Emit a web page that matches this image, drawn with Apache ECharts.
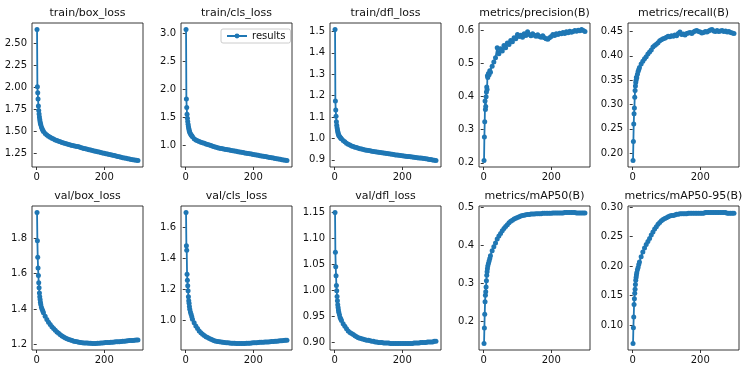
<!DOCTYPE html>
<html>
<head>
<meta charset="utf-8">
<script src="https://cdn.jsdelivr.net/npm/echarts@6/dist/echarts.min.js"></script>
<style>
  html, body { margin: 0; padding: 0; background: #fff; }
  #chart { width: 750px; height: 375px; }
</style>
</head>
<body>
<div id="chart"></div>
<script>
// epochs sampled from the run (dense at the start, every 5 afterwards)
const epochs = [1,2,3,4,5,6,7,8,9,10,11,12,14,16,18,20,
  25,30,35,40,45,50,55,60, 65,70,75,80,85,90,95,100,
  105,110,115,120,125,130,135,140, 145,150,155,160,165,170,175,180,
  185,190,195,200,205,210,215,220, 225,230,235,240,245,250,255,260,
  265,270,275,280,285,290,295,300]

const trainBox = [2.66,2.01,1.94,1.87,1.79,1.74,1.70,1.665,1.635,1.61,1.59,1.575,1.55,1.53,1.515,1.50,
  1.478,1.46,1.446,1.434,1.423,1.413,1.404,1.396, 1.389,1.382,1.375,1.369,1.363,1.357,1.351,1.346,
  1.341,1.336,1.331,1.328,1.325,1.318,1.312,1.307, 1.302,1.297,1.292,1.288,1.283,1.278,1.274,1.269,
  1.265,1.260,1.256,1.252,1.247,1.243,1.238,1.234, 1.229,1.225,1.220,1.216,1.211,1.207,1.202,1.198,
  1.194,1.190,1.186,1.182,1.178,1.175,1.172,1.170]

const trainCls = [3.07,1.83,1.68,1.56,1.49,1.43,1.38,1.34,1.31,1.28,1.255,1.235,1.21,1.19,1.175,1.16,
  1.12,1.10,1.085,1.072,1.06,1.05,1.04,1.03, 1.02,1.01,1.0,0.99,0.98,0.971,0.962,0.953,
  0.947,0.942,0.936,0.931,0.925,0.920,0.914,0.909, 0.903,0.898,0.892,0.887,0.881,0.876,0.870,0.865,
  0.859,0.854,0.848,0.843,0.837,0.832,0.826,0.821, 0.815,0.810,0.804,0.799,0.793,0.788,0.782,0.777,
  0.771,0.766,0.760,0.755,0.749,0.744,0.739,0.735]

const trainDfl = [1.509,1.175,1.133,1.104,1.078,1.062,1.05,1.04,1.032,1.025,1.019,1.014,1.010,1.005,1.001,0.998,
  0.99,0.984,0.978,0.973,0.969,0.965,0.962,0.959, 0.957,0.954,0.952,0.95,0.948,0.946,0.945,0.943,
  0.942,0.940,0.939,0.938,0.937,0.935,0.934,0.933, 0.932,0.931,0.929,0.928,0.927,0.926,0.925,0.923,
  0.922,0.921,0.920,0.919,0.918,0.917,0.916,0.915, 0.914,0.913,0.912,0.911,0.910,0.909,0.908,0.907,
  0.906,0.905,0.904,0.902,0.901,0.899,0.898,0.897]

const precision = [0.207,0.278,0.324,0.387,0.361,0.370,0.400,0.414,0.429,0.422,0.463,0.458,0.470,0.466,0.478,0.474,
  0.492,0.505,0.518,0.548,0.530,0.545,0.538,0.555, 0.548,0.562,0.558,0.570,0.566,0.578,0.575,0.588,
  0.582,0.586,0.580,0.590,0.585,0.596,0.588,0.584, 0.590,0.586,0.583,0.587,0.582,0.580,0.584,0.578,
  0.575,0.574,0.578,0.582,0.588,0.585,0.590,0.588, 0.592,0.590,0.594,0.591,0.596,0.593,0.598,0.595,
  0.597,0.600,0.598,0.601,0.599,0.603,0.600,0.597]

const recall = [0.185,0.224,0.260,0.281,0.293,0.315,0.329,0.338,0.345,0.350,0.356,0.355,0.362,0.368,0.372,0.376,
  0.383,0.389,0.394,0.398,0.404,0.408,0.412,0.418, 0.421,0.424,0.427,0.431,0.433,0.435,0.436,0.438,
  0.440,0.439,0.441,0.440,0.443,0.441,0.446,0.449, 0.444,0.445,0.443,0.446,0.447,0.448,0.446,0.449,
  0.451,0.452,0.450,0.449,0.447,0.448,0.450,0.449, 0.451,0.453,0.454,0.451,0.450,0.452,0.450,0.451,
  0.452,0.450,0.451,0.449,0.450,0.448,0.447,0.446]

const valBox = [1.944,1.785,1.691,1.631,1.588,1.547,1.519,1.49,1.468,1.453,1.438,1.425,1.41,1.398,1.388,1.378,
  1.358,1.34,1.325,1.312,1.30,1.29,1.28,1.27, 1.262,1.254,1.247,1.241,1.236,1.231,1.227,1.224,
  1.221,1.218,1.216,1.214,1.212,1.211,1.209,1.208, 1.207,1.207,1.206,1.206,1.205,1.205,1.205,1.206,
  1.206,1.207,1.208,1.209,1.210,1.210,1.211,1.212, 1.212,1.213,1.214,1.215,1.215,1.216,1.217,1.218,
  1.219,1.220,1.221,1.222,1.222,1.223,1.224,1.224]

const valCls = [1.697,1.483,1.453,1.299,1.26,1.225,1.193,1.154,1.128,1.112,1.09,1.073,1.055,1.04,1.025,1.008,
  0.985,0.965,0.948,0.933,0.921,0.911,0.903,0.896, 0.89,0.884,0.879,0.874,0.87,0.867,0.865,0.863,
  0.861,0.859,0.858,0.857,0.856,0.855,0.854,0.853, 0.853,0.852,0.852,0.852,0.852,0.852,0.852,0.853,
  0.853,0.854,0.855,0.856,0.857,0.857,0.858,0.859, 0.859,0.860,0.861,0.862,0.862,0.863,0.864,0.865,
  0.866,0.867,0.868,0.869,0.870,0.871,0.872,0.872]

const valDfl = [1.149,1.073,1.045,1.028,1.009,0.999,0.988,0.98,0.972,0.967,0.962,0.958,0.953,0.948,0.945,0.942,
  0.936,0.931,0.926,0.922,0.919,0.917,0.915,0.913, 0.911,0.909,0.908,0.907,0.906,0.905,0.904,0.904,
  0.903,0.902,0.902,0.901,0.901,0.900,0.900,0.900, 0.899,0.899,0.899,0.899,0.898,0.898,0.898,0.898,
  0.898,0.898,0.898,0.898,0.898,0.898,0.898,0.898, 0.898,0.898,0.899,0.899,0.899,0.899,0.900,0.900,
  0.900,0.900,0.901,0.901,0.901,0.901,0.902,0.902]

const map50 = [0.141,0.182,0.218,0.251,0.268,0.277,0.29,0.306,0.321,0.33,0.338,0.345,0.352,0.358,0.365,0.372,
  0.385,0.396,0.406,0.416,0.424,0.431,0.438,0.444, 0.449,0.454,0.459,0.463,0.466,0.469,0.471,0.473,
  0.475,0.477,0.478,0.479,0.480,0.481,0.481,0.482, 0.482,0.482,0.483,0.483,0.483,0.483,0.484,0.484,
  0.484,0.484,0.484,0.484,0.485,0.485,0.485,0.485, 0.485,0.485,0.485,0.486,0.486,0.486,0.486,0.486,
  0.486,0.486,0.485,0.485,0.485,0.485,0.485,0.485]

const map5095 = [0.069,0.0955,0.114,0.135,0.145,0.154,0.161,0.169,0.176,0.181,0.185,0.189,0.194,0.198,0.203,0.207,
  0.216,0.224,0.231,0.237,0.242,0.247,0.253,0.258, 0.263,0.267,0.271,0.274,0.277,0.279,0.281,0.282,
  0.284,0.285,0.286,0.286,0.287,0.288,0.288,0.289, 0.289,0.289,0.289,0.289,0.290,0.290,0.290,0.290,
  0.290,0.290,0.290,0.290,0.290,0.290,0.291,0.291, 0.291,0.291,0.291,0.291,0.291,0.291,0.291,0.291,
  0.291,0.291,0.291,0.290,0.290,0.290,0.290,0.290]

const titles = ['train/box_loss','train/cls_loss','train/dfl_loss','metrics/precision(B)','metrics/recall(B)',
  'val/box_loss','val/cls_loss','val/dfl_loss','metrics/mAP50(B)','metrics/mAP50-95(B)']

// tick labels on each y axis
const ticksTrainBox = [1.25,1.5,1.75,2.0,2.25,2.5]
const ticksTrainCls = [1.0,1.5,2.0,2.5,3.0]
const ticksTrainDfl = [0.9,1.0,1.1,1.2,1.3,1.4,1.5]
const ticksPrecision = [0.2,0.3,0.4,0.5,0.6]
const ticksRecall = [0.2,0.25,0.3,0.35,0.4,0.45]
const ticksValBox = [1.2,1.4,1.6,1.8]
const ticksValCls = [1.0,1.2,1.4,1.6]
const ticksValDfl = [0.9,0.95,1.0,1.05,1.1,1.15]
const ticksMap50 = [0.2,0.3,0.4,0.5]
const ticksMap5095 = [0.1,0.15,0.2,0.25,0.3]
const xTicks = [0,200]

const panels = [
  [trainBox, ticksTrainBox, 2], [trainCls, ticksTrainCls, 1], [trainDfl, ticksTrainDfl, 1],
  [precision, ticksPrecision, 1], [recall, ticksRecall, 2],
  [valBox, ticksValBox, 1], [valCls, ticksValCls, 1], [valDfl, ticksValDfl, 2],
  [map50, ticksMap50, 1], [map5095, ticksMap5095, 2]
]

const lefts = [32, 181, 330, 479, 628]
const tops = [23, 206]
const W = 111, H = 144
const blue = '#1f77b4'
const font = 'DejaVu Sans'

function pad(lo, hi) {
  let m = (hi - lo) * 0.05
  return [lo - m, hi + m]
}

let grid = [], xAxis = [], yAxis = [], series = [], title = []
let xr = pad(Math.min(...epochs), Math.max(...epochs))

panels.forEach((p, i) => {
  let col = i % 5, row = Math.floor(i / 5)
  let [vals, ticks, dec] = p
  let yr = pad(Math.min(...vals), Math.max(...vals))
  grid.push({
    left: lefts[col], top: tops[row], width: W, height: H,
    show: true, borderColor: '#222', borderWidth: 0.9, backgroundColor: 'transparent'
  })
  title.push({
    text: titles[i],
    left: lefts[col] + W / 2, top: row ? 191 : 8,
    textAlign: 'center', padding: 0,
    textStyle: { fontFamily: font, fontSize: 11, fontWeight: 'normal', color: '#111' }
  })
  xAxis.push({
    type: 'value', gridIndex: i, min: xr[0], max: xr[1],
    axisLine: { show: false },
    splitLine: { show: false },
    axisTick: { show: true, length: 3, customValues: xTicks, lineStyle: { color: '#222', width: 0.9 } },
    axisLabel: { customValues: xTicks, margin: 5, fontFamily: font, fontSize: 10, color: '#111' }
  })
  yAxis.push({
    type: 'value', gridIndex: i, min: yr[0], max: yr[1],
    axisLine: { show: false },
    splitLine: { show: false },
    axisTick: { show: true, length: 3, customValues: ticks, lineStyle: { color: '#222', width: 0.9 } },
    axisLabel: {
      customValues: ticks, margin: 5, fontFamily: font, fontSize: 10, color: '#111',
      formatter: v => v.toFixed(dec)
    }
  })
  series.push({
    name: 'results', type: 'line', xAxisIndex: i, yAxisIndex: i,
    data: epochs.map((e, k) => [e, vals[k]]),
    symbol: 'circle', symbolSize: 5, showSymbol: true,
    lineStyle: { color: blue, width: 1.8 },
    itemStyle: { color: blue },
    emphasis: { disabled: true }
  })
})

let chart = echarts.init(document.getElementById('chart'))
chart.setOption({
  animation: false,
  backgroundColor: '#fff',
  title: title,
  legend: {
    data: ['results'],
    left: 221, top: 29,
    padding: [2, 5], itemWidth: 20, itemHeight: 6, itemGap: 5,
    borderColor: '#ccc', borderWidth: 1, borderRadius: 2, backgroundColor: '#fff',
    textStyle: { fontFamily: font, fontSize: 10, color: '#111' }
  },
  grid: grid,
  xAxis: xAxis,
  yAxis: yAxis,
  series: series
})
</script>
</body>
</html>
